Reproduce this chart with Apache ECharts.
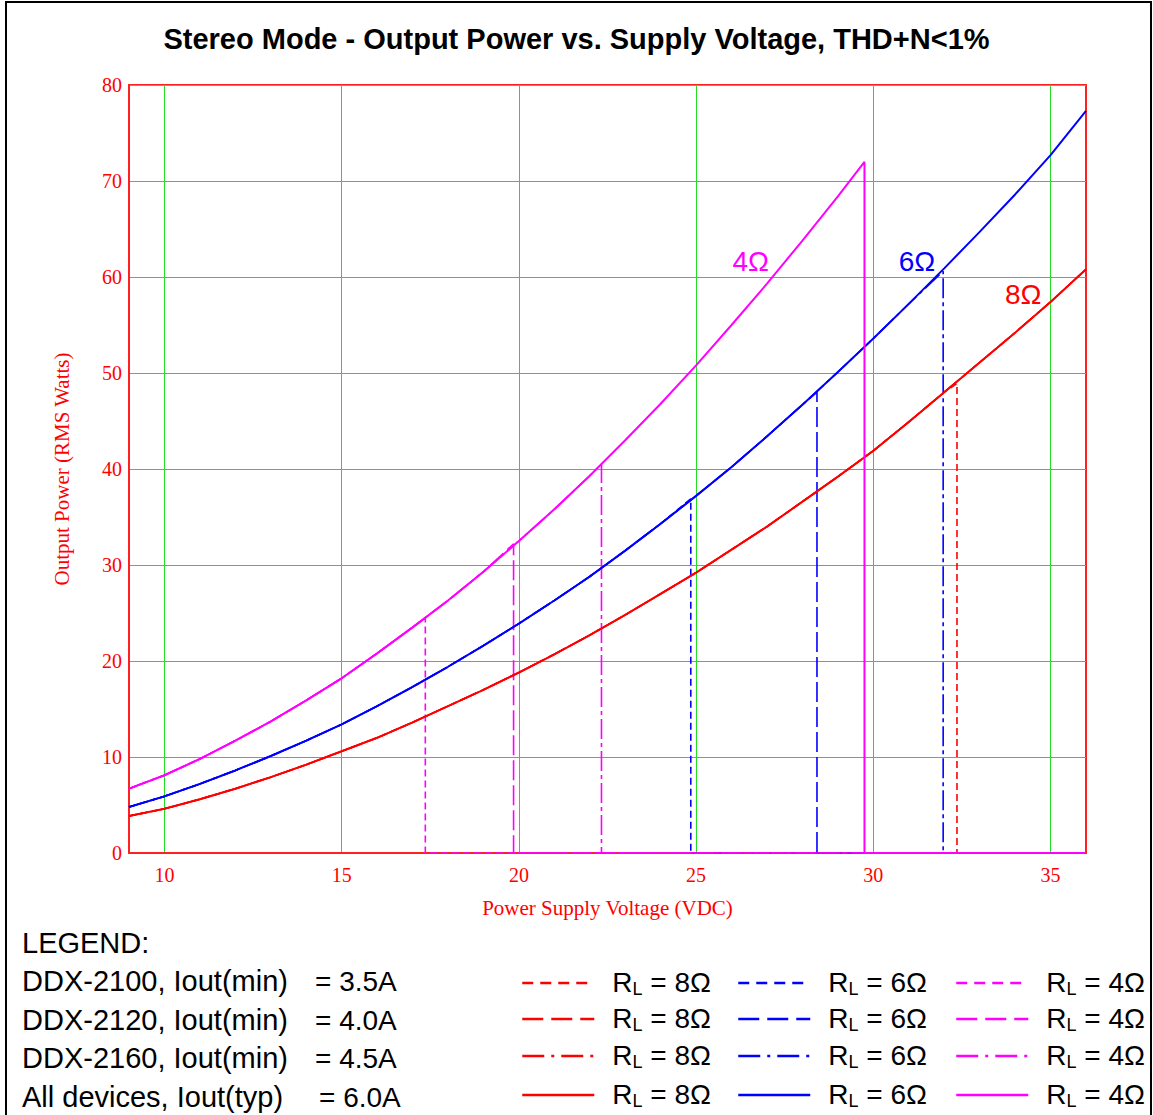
<!DOCTYPE html>
<html>
<head>
<meta charset="utf-8">
<title>Stereo Mode - Output Power vs. Supply Voltage</title>
<script src="https://cdn.jsdelivr.net/npm/echarts@6/dist/echarts.min.js"></script>
<style>
  html, body { margin: 0; padding: 0; background: #fff; }
  #chart { width: 1153px; height: 1115px; }
</style>
</head>
<body>
<div id="chart"></div>
<script>
// supply voltage (VDC) at which the curves were read
const voltage = [9, 10, 11, 12, 13, 14, 15, 16, 17, 18, 19, 20, 21, 22, 23, 24, 25, 26, 27, 28, 29, 30, 31, 32, 33, 34, 35, 36];
// output power (RMS W), typical curves
const power8 = [3.85, 4.6, 5.6, 6.7, 7.9, 9.2, 10.6, 12.0, 13.6, 15.3, 17.0, 18.8, 20.7, 22.7, 24.8, 27.0, 29.2, 31.6, 34.0, 36.6, 39.2, 41.9, 44.9, 48.0, 51.1, 54.2, 57.4, 60.8];
const power6 = [4.8, 5.9, 7.2, 8.6, 10.1, 11.7, 13.4, 15.3, 17.3, 19.4, 21.6, 23.9, 26.3, 28.8, 31.5, 34.3, 37.2, 40.2, 43.4, 46.7, 50.1, 53.6, 57.2, 60.9, 64.7, 68.6, 72.7, 77.3];
const power4 = [6.7, 8.1, 9.8, 11.7, 13.7, 15.9, 18.2, 20.8, 23.5, 26.3, 29.3, 32.5, 35.8, 39.3, 43.0, 46.8, 50.8, 55.0, 59.3, 63.8, 68.4];

// device rows of the legend
const devices = ['DDX-2100', 'DDX-2120', 'DDX-2160', 'All devices'];
const deviceText = ['DDX-2100, Iout(min)', 'DDX-2120, Iout(min)', 'DDX-2160, Iout(min)', 'All devices, Iout(typ)'];
const currentText = ['= 3.5A', '= 4.0A', '= 4.5A', '= 6.0A'];

// current limit cut-off per device: voltage and power at the cut-off (null = beyond 36 V)
const cutV8 = [32.36, null, null, null];
const cutP8 = [48.9, null, null, null];
const cutV6 = [24.85, 28.41, 31.97, null];
const cutP6 = [36.9, 48.0, 60.6, null];
const cutV4 = [17.36, 19.85, 22.33, 29.75];
const cutP4 = [24.5, 32.2, 40.5, 72.0];

const xTicks = [10, 15, 20, 25, 30, 35];
const xMin = 9, xMax = 36;

const loads = [
  { ohm: '8Ω', color: '#ff0000', power: power8, cutV: cutV8, cutP: cutP8, labelAt: [34.23, 58.2] },
  { ohm: '6Ω', color: '#0000ff', power: power6, cutV: cutV6, cutP: cutP6, labelAt: [31.23, 61.6] },
  { ohm: '4Ω', color: '#ff00ff', power: power4, cutV: cutV4, cutP: cutP4, labelAt: [26.54, 61.6] }
];

const dashes = [[7, 4], [20, 5], [20, 4, 4, 4], 'solid'];
const legendDashes = [[11, 7], [21, 8], [22, 7, 3, 7], 'solid'];
const sans = '"Liberation Sans", Arial, sans-serif';
const serif = '"Liberation Serif", "Times New Roman", serif';

function buildLine(power, cv, cp) {
  const pts = [];
  for (let i = 0; i < power.length; i++) {
    if (cv !== null && voltage[i] >= cv) break;
    pts.push([voltage[i], power[i]]);
  }
  if (cv !== null) {
    pts.push([cv, cp], [cv, 0], [xMax, 0]);
  }
  return pts;
}

const series = [];
const legends = [];
const colX = [521, 737, 955];
const rowY = [988, 1024, 1061, 1100];

devices.forEach((dev, d) => {
  loads.forEach((ld, l) => {
    const name = dev + ' ' + ld.ohm;
    const s = {
      name: name,
      type: 'line',
      symbol: 'none',
      smooth: false,
      data: buildLine(ld.power, ld.cutV[d], ld.cutP[d]),
      lineStyle: { color: ld.color, width: d === 3 ? 2 : 1.6, type: dashes[d] },
      itemStyle: { color: ld.color }
    };
    if (d === 3) {
      s.markPoint = {
        symbol: 'circle',
        symbolSize: 0,
        silent: true,
        data: [{ coord: ld.labelAt }],
        label: { show: true, formatter: ld.ohm, color: ld.color, fontSize: 28, fontFamily: sans }
      };
    }
    series.push(s);

    legends.push({
      data: [name],
      left: colX[l],
      top: rowY[d] - 20,
      padding: 0,
      itemWidth: 72,
      itemHeight: 14,
      selectedMode: false,
      lineStyle: { width: 2.5, type: legendDashes[d] },
      itemStyle: { opacity: 0 },
      formatter: () => '{r|R}{s|L}{t| = ' + ld.ohm + '}',
      textStyle: {
        color: '#000',
        fontFamily: sans,
        rich: {
          r: { fontSize: 28, fontFamily: sans, color: '#000', padding: [0, 0, 0, 13], lineHeight: 30, verticalAlign: 'top' },
          s: { fontSize: 18, fontFamily: sans, color: '#000', lineHeight: 18, verticalAlign: 'bottom' },
          t: { fontSize: 28, fontFamily: sans, color: '#000', lineHeight: 30, verticalAlign: 'top' }
        }
      }
    });
  });
});

const graphics = [
  { type: 'rect', shape: { x: 6, y: 2, width: 1145, height: 1120 }, style: { fill: 'none', stroke: '#000', lineWidth: 2 }, silent: true },
  { type: 'text', x: 22, y: 943, style: { text: 'LEGEND:', font: '29px ' + sans, fill: '#000', verticalAlign: 'middle' } }
];
const rowText = [981, 1020, 1058, 1097];
deviceText.forEach((t, i) => {
  graphics.push({ type: 'text', x: 22, y: rowText[i], style: { text: t, font: '29px ' + sans, fill: '#000', verticalAlign: 'middle' } });
  graphics.push({ type: 'text', x: i === 3 ? 319 : 315, y: rowText[i], style: { text: currentText[i], font: '28px ' + sans, fill: '#000', verticalAlign: 'middle' } });
});

const chart = echarts.init(document.getElementById('chart'), null, { renderer: 'svg' });
chart.setOption({
  animation: false,
  backgroundColor: '#ffffff',
  title: {
    text: 'Stereo Mode - Output Power vs. Supply Voltage, THD+N<1%',
    left: 'center',
    top: 19,
    textStyle: { fontFamily: sans, fontWeight: 'bold', fontSize: 29, color: '#000' }
  },
  grid: { left: 129, right: 67, top: 85, bottom: 262, show: true, borderColor: '#ff2020', borderWidth: 2, containLabel: false },
  xAxis: {
    type: 'value',
    min: xMin,
    max: xMax,
    name: 'Power Supply Voltage (VDC)',
    nameLocation: 'middle',
    nameGap: 44,
    nameTextStyle: { color: '#ff0000', fontFamily: serif, fontSize: 21 },
    axisLine: { show: true, lineStyle: { color: '#ff2020', width: 2 } },
    axisTick: { show: false, customValues: xTicks },
    axisLabel: { customValues: xTicks, color: '#ff0000', fontFamily: serif, fontSize: 20, margin: 12 },
    splitLine: { show: true, lineStyle: { color: '#22dd22', width: 1 } }
  },
  yAxis: {
    type: 'value',
    min: 0,
    max: 80,
    interval: 10,
    name: 'Output Power (RMS Watts)',
    nameLocation: 'middle',
    nameGap: 57,
    nameTextStyle: { color: '#ff0000', fontFamily: serif, fontSize: 21 },
    axisLine: { show: true, lineStyle: { color: '#ff2020', width: 2 } },
    axisTick: { show: false },
    axisLabel: { color: '#ff0000', fontFamily: serif, fontSize: 20, margin: 7 },
    splitLine: { show: true, lineStyle: { color: '#22dd22', width: 1 } }
  },
  legend: legends,
  series: series,
  graphic: graphics
});
</script>
</body>
</html>
